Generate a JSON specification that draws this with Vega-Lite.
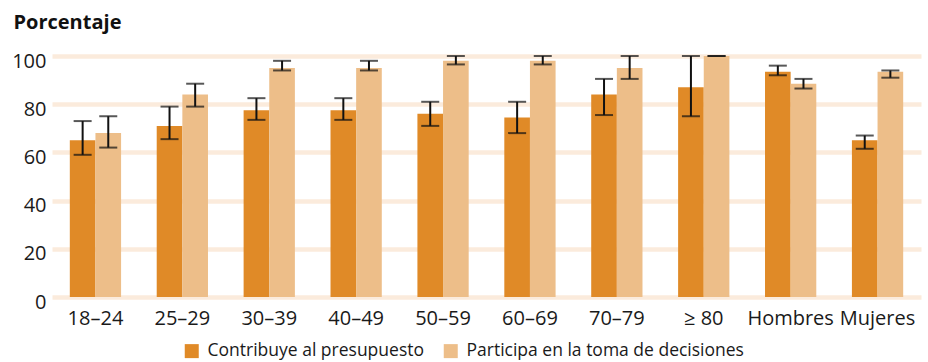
{
  "$schema": "https://vega.github.io/schema/vega-lite/v6.json",
  "width": 869,
  "height": 241,
  "autosize": {"type": "none"},
  "padding": {"left": 52, "top": 56, "right": 7, "bottom": 65},
  "background": "white",
  "config": {
    "view": {"stroke": null},
    "font": "Open Sans"
  },
  "data": {
    "values": [
      {"grupo": "18–24", "serie": "Contribuye al presupuesto", "valor": 65, "lo": 59, "hi": 73},
      {"grupo": "18–24", "serie": "Participa en la toma de decisiones", "valor": 68, "lo": 62, "hi": 75},
      {"grupo": "25–29", "serie": "Contribuye al presupuesto", "valor": 71, "lo": 65.5, "hi": 79},
      {"grupo": "25–29", "serie": "Participa en la toma de decisiones", "valor": 84, "lo": 79, "hi": 88.5},
      {"grupo": "30–39", "serie": "Contribuye al presupuesto", "valor": 77.5, "lo": 73.5, "hi": 82.5},
      {"grupo": "30–39", "serie": "Participa en la toma de decisiones", "valor": 95, "lo": 94, "hi": 98},
      {"grupo": "40–49", "serie": "Contribuye al presupuesto", "valor": 77.5, "lo": 73.5, "hi": 82.5},
      {"grupo": "40–49", "serie": "Participa en la toma de decisiones", "valor": 95, "lo": 94, "hi": 98},
      {"grupo": "50–59", "serie": "Contribuye al presupuesto", "valor": 76, "lo": 71, "hi": 81},
      {"grupo": "50–59", "serie": "Participa en la toma de decisiones", "valor": 98, "lo": 96.5, "hi": 100},
      {"grupo": "60–69", "serie": "Contribuye al presupuesto", "valor": 74.5, "lo": 68, "hi": 81},
      {"grupo": "60–69", "serie": "Participa en la toma de decisiones", "valor": 98, "lo": 96.5, "hi": 100},
      {"grupo": "70–79", "serie": "Contribuye al presupuesto", "valor": 84, "lo": 75.5, "hi": 90.5},
      {"grupo": "70–79", "serie": "Participa en la toma de decisiones", "valor": 95, "lo": 90.5, "hi": 100},
      {"grupo": "≥ 80", "serie": "Contribuye al presupuesto", "valor": 87, "lo": 75, "hi": 100},
      {"grupo": "≥ 80", "serie": "Participa en la toma de decisiones", "valor": 100, "lo": 100, "hi": 100},
      {"grupo": "Hombres", "serie": "Contribuye al presupuesto", "valor": 93.5, "lo": 92, "hi": 96},
      {"grupo": "Hombres", "serie": "Participa en la toma de decisiones", "valor": 88.5, "lo": 86.5, "hi": 90.5},
      {"grupo": "Mujeres", "serie": "Contribuye al presupuesto", "valor": 65, "lo": 61.5, "hi": 67},
      {"grupo": "Mujeres", "serie": "Participa en la toma de decisiones", "valor": 93.5, "lo": 91, "hi": 94}
    ]
  },
  "encoding": {
    "x": {
      "field": "grupo",
      "type": "nominal",
      "sort": null,
      "scale": {"paddingInner": 0.41, "paddingOuter": 0.205},
      "axis": {
        "title": null,
        "labelAngle": 0,
        "domain": false,
        "ticks": false,
        "labelPadding": 11,
        "labelFontSize": 20,
        "labelColor": "#1a1a1a",
        "labelFont": "Open Sans"
      }
    },
    "xOffset": {"field": "serie", "type": "nominal", "sort": null, "scale": {"paddingInner": 0, "paddingOuter": 0}}
  },
  "layer": [
    {
      "mark": {"type": "bar"},
      "encoding": {
        "y": {
          "field": "valor",
          "type": "quantitative",
          "scale": {"domain": [0, 100], "nice": false},
          "axis": {
            "title": "Porcentaje",
            "titleAngle": 0,
            "titleAlign": "left",
            "titleBaseline": "alphabetic",
            "titleX": -39,
            "titleY": -28,
            "titleFontSize": 20,
            "titleFontWeight": "bold",
            "titleColor": "#111111",
            "titleFont": "Open Sans",
            "values": [0, 20, 40, 60, 80, 100],
            "domain": false,
            "ticks": false,
            "grid": true,
            "gridColor": "#FBEBDC",
            "gridWidth": 4.5,
            "labelFontSize": 20,
            "labelPadding": 6,
            "labelOffset": 5,
            "labelColor": "#1a1a1a",
            "labelFont": "Open Sans"
          }
        },
        "color": {
          "field": "serie",
          "type": "nominal",
          "sort": null,
          "scale": {
            "domain": ["Contribuye al presupuesto", "Participa en la toma de decisiones"],
            "range": ["#E08A27", "#EDBE89"]
          },
          "legend": {
            "orient": "none",
            "legendX": 131,
            "legendY": 286,
            "direction": "horizontal",
            "title": null,
            "symbolType": "square",
            "symbolSize": 196,
            "symbolStrokeWidth": 0,
            "labelFontSize": 17.5,
            "labelLimit": 500,
            "labelOffset": 7,
            "columnPadding": 18,
            "padding": 0,
            "labelColor": "#1a1a1a",
            "labelFont": "Open Sans"
          }
        }
      }
    },
    {
      "mark": {"type": "rule", "color": "#111111", "strokeWidth": 2},
      "encoding": {
        "y": {"field": "lo", "type": "quantitative"},
        "y2": {"field": "hi"}
      }
    },
    {
      "mark": {"type": "tick", "color": "#111111", "thickness": 2, "size": 18},
      "encoding": {
        "y": {"field": "lo", "type": "quantitative"}
      }
    },
    {
      "mark": {"type": "tick", "color": "#111111", "thickness": 2, "size": 18},
      "encoding": {
        "y": {"field": "hi", "type": "quantitative"}
      }
    }
  ]
}
